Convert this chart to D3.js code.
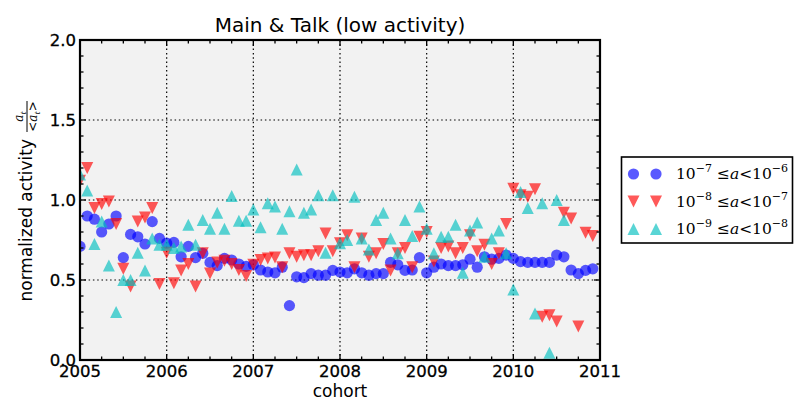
<!DOCTYPE html>
<html>
<head>
<meta charset="utf-8">
<script src="https://cdn.jsdelivr.net/npm/d3@7"></script>
<style>
body { margin: 0; background: #fff; }
svg { display: block; }
</style>
</head>
<body>
<svg id="chart" width="800" height="400"></svg>
<script>
// ---- data ----
const title = "Main & Talk (low activity)";
const xLabel = "cohort";
const yLabel = "normalized activity";
const xTicks = [2005, 2006, 2007, 2008, 2009, 2010, 2011];
const yTicks = [0.0, 0.5, 1.0, 1.5, 2.0];
const yTickLabels = ["0.0", "0.5", "1.0", "1.5", "2.0"];
const startYear = 2005;
const monthCount = 72;
const cohorts = d3.range(monthCount).map(i => startYear + i / 12);

const seriesNames = [
  ["10", "\u22127", "\u22126"],
  ["10", "\u22128", "\u22127"],
  ["10", "\u22129", "\u22128"]
];

const blueValues = [
  0.71, 0.90, 0.88, 0.80, 0.85, 0.90, 0.64, 0.785, 0.77, 0.725, 0.865, 0.76,
  0.73, 0.735, 0.645, 0.71, 0.64, 0.667, 0.61, 0.59, 0.635, 0.625, 0.60, 0.585,
  0.595, 0.5625, 0.55, 0.545, 0.58, 0.34, 0.52, 0.515, 0.54, 0.53, 0.53, 0.56,
  0.55, 0.545, 0.57, 0.545, 0.53, 0.54, 0.54, 0.61, 0.595, 0.56, 0.5625, 0.64,
  0.545, 0.58, 0.60, 0.59, 0.59, 0.595, 0.63, 0.58, 0.645, 0.63, 0.635, 0.656,
  0.635, 0.615, 0.61, 0.61, 0.61, 0.61, 0.656, 0.645, 0.5625, 0.54, 0.56, 0.57
];
const redValues = [
  1.12, 1.20, 0.95, 0.975, 0.99, 0.85, 0.57, 0.46, 0.865, 0.89, 0.95, 0.475,
  0.67, 0.48, 0.56, 0.60, 0.46, 0.667, 0.54, 0.61, 0.62, 0.60, 0.5625, 0.525,
  0.595, 0.625, 0.635, 0.64, 0.58, 0.667, 0.645, 0.655, 0.655, 0.68, 0.79, 0.68,
  0.73, 0.78, 0.58, 0.76, 0.645, 0.667, 0.725, 0.56, 0.667, 0.70, 0.58, 0.77,
  0.80, 0.615, 0.70, 0.71, 0.667, 0.70, 0.78, 0.68, 0.72, 0.60, 0.667, 0.85,
  1.07, 1.03, 1.02, 1.067, 0.27, 0.28, 0.24, 0.92, 0.885, 0.21, 0.795, 0.775
];
const cyanValues = [
  1.16, 1.06, 0.725, 0.865, 0.59, 0.30, 0.50, 0.50, 0.67, 0.56, 0.76, 0.72,
  0.72, 0.70, 0.71, 0.845, 0.72, 0.875, 0.82, 0.92, 0.82, 1.025, 0.87, 0.87,
  0.94, 0.83, 0.98, 0.96, 0.82, 0.93, 1.19, 0.92, 0.94, 1.03, 0.67, 1.03,
  0.73, 0.75, 1.02, 0.76, 0.69, 0.875, 0.92, 0.76, 0.667, 0.875, 0.775, 0.96,
  0.82, 0.667, 0.77, 0.77, 0.845, 0.545, 0.81, 0.86, 0.645, 0.76, 0.81, 0.667,
  0.44, 1.05, 0.95, 0.29, 0.98, 0.045, 1.0, 0.875, null, null, null, null
];

// ---- layout ----
const svg = d3.select("#chart");
const M = { left: 80, right: 600, top: 40, bottom: 360 };
const x = d3.scaleLinear().domain([2005, 2011]).range([M.left, M.right]);
const y = d3.scaleLinear().domain([0, 2]).range([M.bottom, M.top]);
const ALPHA = 0.65;

svg.append("rect").attr("x", M.left).attr("y", M.top)
  .attr("width", M.right - M.left).attr("height", M.bottom - M.top)
  .attr("fill", "#f2f2f2");

// grid
const grid = svg.append("g").attr("stroke", "#000").attr("stroke-width", 1.2)
  .attr("stroke-dasharray", "1.5,2.8").attr("fill", "none");
xTicks.slice(1, -1).forEach(t => grid.append("line")
  .attr("x1", x(t)).attr("x2", x(t)).attr("y1", M.top).attr("y2", M.bottom));
yTicks.slice(1, -1).forEach(t => grid.append("line")
  .attr("y1", y(t)).attr("y2", y(t)).attr("x1", M.left).attr("x2", M.right));

// markers
svg.append("clipPath").attr("id", "clip").append("rect")
  .attr("x", M.left).attr("y", M.top).attr("width", M.right - M.left).attr("height", M.bottom - M.top);
const pts = svg.append("g").attr("clip-path", "url(#clip)");
const R = 5.6;
const T = 6;
const triDown = `M${-T},${-T}L${T},${-T}L0,${T}Z`;
const triUp = `M${-T},${T}L${T},${T}L0,${-T}Z`;

function drawSeries(vals, kind, color) {
  const data = vals.map((v, i) => ({ c: cohorts[i], v })).filter(d => d.v !== null);
  const g = pts.append("g").attr("fill", color).attr("fill-opacity", ALPHA);
  if (kind === "circle") {
    g.selectAll("circle").data(data).join("circle")
      .attr("cx", d => x(d.c)).attr("cy", d => y(d.v)).attr("r", R);
  } else {
    g.selectAll("path").data(data).join("path")
      .attr("d", kind === "down" ? triDown : triUp)
      .attr("transform", d => `translate(${x(d.c)},${y(d.v)})`);
  }
}
drawSeries(blueValues, "circle", "#0000ff");
drawSeries(redValues, "down", "#ff0000");
drawSeries(cyanValues, "up", "#00bfbf");

// ticks (inward, all sides)
const tk = svg.append("g").attr("stroke", "#000").attr("stroke-width", 1.3);
const xMinor = d3.range(2005, 2011.001, 0.25);
const yMinor = d3.range(0, 2.001, 0.1);
xMinor.forEach(t => {
  const major = Math.abs(t - Math.round(t)) < 1e-6;
  const L = major ? 6 : 3.5;
  tk.append("line").attr("x1", x(t)).attr("x2", x(t)).attr("y1", M.bottom).attr("y2", M.bottom - L);
  tk.append("line").attr("x1", x(t)).attr("x2", x(t)).attr("y1", M.top).attr("y2", M.top + L);
});
yMinor.forEach(t => {
  const major = Math.abs(t * 2 - Math.round(t * 2)) < 1e-6;
  const L = major ? 6 : 3.5;
  tk.append("line").attr("y1", y(t)).attr("y2", y(t)).attr("x1", M.left).attr("x2", M.left + L);
  tk.append("line").attr("y1", y(t)).attr("y2", y(t)).attr("x1", M.right).attr("x2", M.right - L);
});

// frame
svg.append("rect").attr("x", M.left).attr("y", M.top)
  .attr("width", M.right - M.left).attr("height", M.bottom - M.top)
  .attr("fill", "none").attr("stroke", "#000").attr("stroke-width", 2.2);

// tick labels
const font = "DejaVu Sans, sans-serif";
svg.append("g").selectAll("text").data(xTicks).join("text")
  .attr("x", d => x(d)).attr("y", 377).attr("text-anchor", "middle")
  .attr("font-family", font).attr("font-size", 16.5).attr("fill", "#000")
  .attr("stroke", "#000").attr("stroke-width", 0.3)
  .text(d => d);
svg.append("g").selectAll("text").data(yTicks).join("text")
  .attr("x", 76).attr("y", d => y(d) + 6).attr("text-anchor", "end")
  .attr("font-family", font).attr("font-size", 16.5).attr("fill", "#000")
  .attr("stroke", "#000").attr("stroke-width", 0.3)
  .text((d, i) => yTickLabels[i]);

// title & labels
svg.append("text").attr("x", (M.left + M.right) / 2).attr("y", 32)
  .attr("text-anchor", "middle").attr("font-family", font).attr("font-size", 20)
  .text(title);
svg.append("text").attr("x", (M.left + M.right) / 2).attr("y", 397)
  .attr("text-anchor", "middle").attr("font-family", font).attr("font-size", 17)
  .text(xLabel);

const yl = svg.append("g").attr("transform", "translate(32,139) rotate(-90)");
yl.append("text").attr("x", 0).attr("y", 0).attr("text-anchor", "end")
  .attr("font-family", font).attr("font-size", 17).text(yLabel);
// fraction a_t / <a_t>
const serif = "DejaVu Serif, serif";
const fr = yl.append("g").attr("font-family", serif).attr("font-size", 12);
fr.append("line").attr("x1", 7).attr("x2", 38).attr("y1", -5).attr("y2", -5)
  .attr("stroke", "#000").attr("stroke-width", 1);
const num = fr.append("text").attr("x", 22.5).attr("y", -9).attr("text-anchor", "middle");
num.append("tspan").attr("font-style", "italic").text("a");
num.append("tspan").attr("font-size", 8).attr("dy", 2.5).attr("font-style", "italic").text("t");
const den = fr.append("text").attr("x", 22.5).attr("y", 5).attr("text-anchor", "middle");
den.append("tspan").text("<");
den.append("tspan").attr("font-style", "italic").text("a");
den.append("tspan").attr("font-size", 8).attr("dy", 2.5).attr("font-style", "italic").text("t");
den.append("tspan").attr("dy", -2.5).text(">");

// legend
const lg = svg.append("g");
lg.append("rect").attr("x", 621.5).attr("y", 157).attr("width", 171).attr("height", 86)
  .attr("fill", "#fff").attr("stroke", "#000").attr("stroke-width", 1.6);
const legendKinds = ["circle", "down", "up"];
const legendColors = ["#0000ff", "#ff0000", "#00bfbf"];
const rowY = [174, 201.5, 229];
seriesNames.forEach((s, i) => {
  [633.5, 656].forEach(mx => {
    if (legendKinds[i] === "circle") {
      lg.append("circle").attr("cx", mx).attr("cy", rowY[i]).attr("r", R)
        .attr("fill", legendColors[i]).attr("fill-opacity", ALPHA);
    } else {
      lg.append("path").attr("d", legendKinds[i] === "down" ? triDown : triUp)
        .attr("transform", `translate(${mx},${rowY[i]})`)
        .attr("fill", legendColors[i]).attr("fill-opacity", ALPHA);
    }
  });
  const t = lg.append("text").attr("x", 676).attr("y", rowY[i] + 5)
    .attr("font-family", serif).attr("font-size", 15.5).attr("fill", "#000");
  t.append("tspan").text(s[0]);
  t.append("tspan").attr("font-size", 11).attr("dy", -7).text(s[1]);
  t.append("tspan").attr("dy", 7).text(" \u2264");
  t.append("tspan").attr("font-style", "italic").text("a");
  t.append("tspan").text("<10");
  t.append("tspan").attr("font-size", 11).attr("dy", -7).text(s[2]);
});
</script>
</body>
</html>
